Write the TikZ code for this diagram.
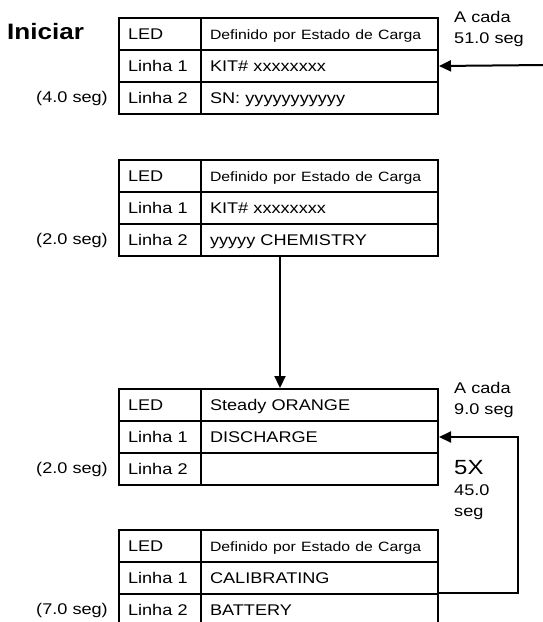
\documentclass[tikz,border=0pt]{standalone}
\usepackage{fontspec}
\setmainfont{Liberation Sans}[FakeStretch=1.17]
\usetikzlibrary{arrows.meta}
\tikzset{
  cellbase/.style={rectangle, draw, line width=2pt, minimum height=32pt,
    inner xsep=9pt, inner ysep=0pt, align=left, text height=11pt, text depth=0pt,
    font=\fontsize{15.5}{18}\selectfont},
  cella/.style={cellbase, text width=64pt, anchor=north west},
  cellb/.style={cellbase, text width=219pt, anchor=north west},
  small/.style={font=\fontsize{13.5}{16}\selectfont},
  lbl/.style={inner sep=0pt, font=\fontsize{15.5}{18}\selectfont},
  arr/.style={line width=2pt, -{Triangle[length=12pt,width=11pt]}},
  conn/.style={line width=2pt},
}
\newcommand\lcdtab[5]{%
  \node[cella] (#1a) at (118,#2) {LED};
  \node[cellb] (#1b) at (200,#2) {#3};
  \node[cella] (#1c) at (118,#2+32) {Linha 1};
  \node[cellb] (#1d) at (200,#2+32) {#4};
  \node[cella] (#1e) at (118,#2+64) {Linha 2};
  \node[cellb] (#1f) at (200,#2+64) {#5};
}
\begin{document}
\begin{tikzpicture}[x=1pt,y=-1pt]
\clip (0,0) rectangle (543,622);
\useasboundingbox (0,0) rectangle (543,622);

\node[inner sep=0pt, anchor=base west, font=\fontsize{22.3}{26}\selectfont\bfseries] (start) at (7,39) {Iniciar};

\lcdtab{t1}{17}{\fontsize{13.5}{16}\selectfont Definido por Estado de Carga}{KIT\# xxxxxxxx}{SN: yyyyyyyyyyy}
\lcdtab{t2}{159}{\fontsize{13.5}{16}\selectfont Definido por Estado de Carga}{KIT\# xxxxxxxx}{yyyyy CHEMISTRY}
\lcdtab{t3}{388}{Steady ORANGE}{DISCHARGE}{}
\lcdtab{t4}{529}{\fontsize{13.5}{16}\selectfont Definido por Estado de Carga}{CALIBRATING}{BATTERY}

% time labels
\node[lbl, anchor=base east] (d1) at (108,102.5) {(4.0 seg)};
\node[lbl, anchor=base east] (d2) at (108,244.5) {(2.0 seg)};
\node[lbl, anchor=base east] (d3) at (108,473.5) {(2.0 seg)};
\node[lbl, anchor=base east] (d4) at (108,614) {(7.0 seg)};

% top repeat label and arrow
\node[lbl, anchor=base west] (r1a) at (454,22) {A cada};
\node[lbl, anchor=base west] (r1b) at (454,43) {51.0 seg};
\coordinate (in1) at (545,65);
\draw[arr] (in1) -- (t1d.east);

% down arrow
\coordinate (dx) at (280,0);
\draw[arr] (t2f.south -| dx) -- (t3b.north -| dx);

% loop
\node[lbl, anchor=base west] (r3a) at (454,393) {A cada};
\node[lbl, anchor=base west] (r3b) at (454,414) {9.0 seg};
\node[inner sep=0pt, anchor=base west, font=\fontsize{20.5}{24}\selectfont] (five) at (454,474) {5X};
\node[lbl, anchor=base west] (r3c) at (454,495) {45.0};
\node[lbl, anchor=base west] (r3d) at (454,516) {seg};
\coordinate (rx) at (518,0);
\draw[arr] ([yshift=2pt]t4d.south east) -| (rx |- t3d.east) -- (t3d.east);
\end{tikzpicture}
\end{document}
